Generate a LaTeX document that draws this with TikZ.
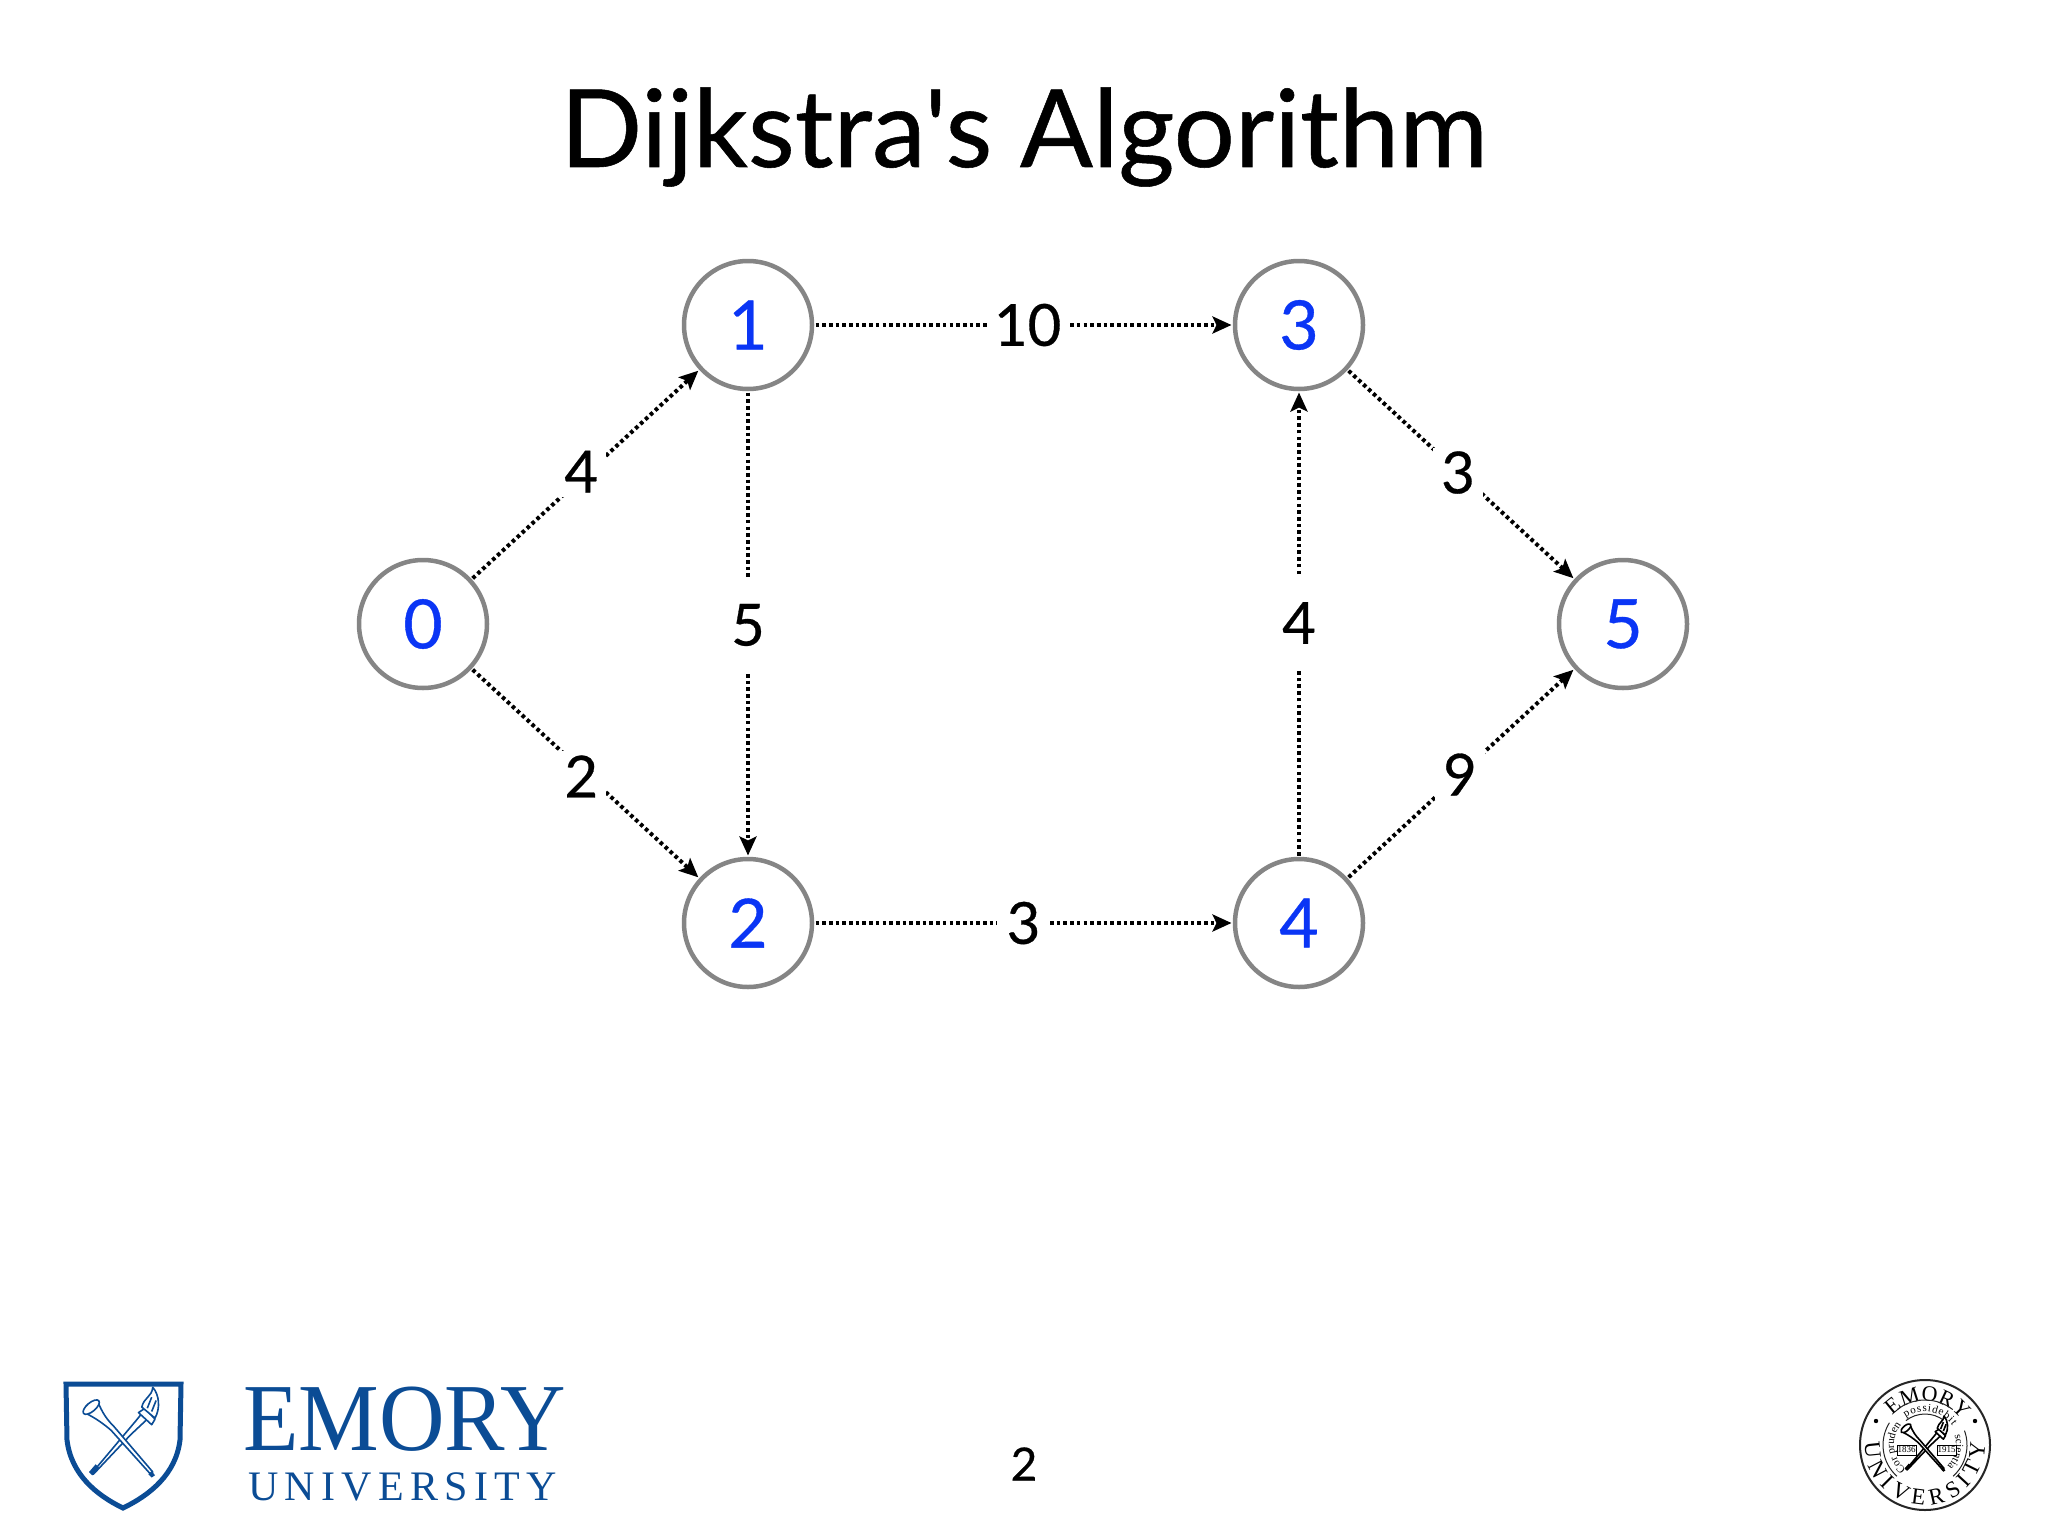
\documentclass[tikz,border=0pt]{standalone}
\usepackage{fontspec}
\usepackage{graphicx}
\usetikzlibrary{arrows.meta,decorations.text}
\setmainfont{Lato}
\newfontfamily\heavyfont[FakeBold=0.5]{Lato}
\newfontfamily\logofont{Liberation Serif}
\newfontfamily\logospaced[LetterSpace=15]{Liberation Serif}
\definecolor{nodeblue}{HTML}{0A35F5}
\definecolor{ringgray}{HTML}{858585}
\definecolor{emoryblue}{HTML}{0B4C95}
\newcommand{\px}[1]{\fontsize{#1}{#1}\selectfont}
\tikzset{
  vertex/.style={circle,draw=ringgray,line width=4.5pt,minimum size=128pt,inner sep=0pt,outer sep=3.5pt,text=nodeblue,font=\heavyfont\px{68}},
  edge/.style={line width=4pt,dash pattern=on 3.6pt off 3.1pt,-{Stealth[length=19pt,width=17pt,inset=4pt]},black},
  weight/.style={fill=white,inner sep=0pt,text=black,font=\heavyfont\px{58}},
  hweight/.style={weight,minimum height=30pt},
  vweight/.style={weight,minimum height=94pt,minimum width=30pt},
  dweight/.style={weight,minimum height=50pt,minimum width=50pt},
  tube/.style={line width=1.6pt,line join=round},
}
% crossed trumpet and torch, local origin at the crossing
\newcommand{\crossedemblem}[1]{%
  \draw[tube,draw=#1,fill=white] (-28,30) -- (-24,27) -- (13,-17) -- (17,-22) -- (24,-19) -- (8,-4) -- (-26,32) -- cycle;
  \fill[#1] (-30,30) -- (-24,23) -- (-21,26) -- (-27,33) -- cycle;
  \draw[tube,draw=#1,fill=white] (15,-24) -- (27,-13) -- (30,-18) -- (21,-28) -- cycle;
  \draw[tube,draw=#1,fill=white] (18,-29) .. controls (20,-38) and (27,-38) .. (28,-47) .. controls (34,-40) and (35,-28) .. (30,-19) -- cycle;
  \draw[tube,draw=#1] (23,-28) -- (27,-38) (27,-25) -- (31,-35);
  \draw[tube,draw=#1,fill=white] (26,32) -- (28,30) -- (-7,-11) .. controls (-14,-18) and (-18,-24) .. (-22,-34) -- (-34,-24) .. controls (-24,-19) and (-17,-14) .. (-10,-8) -- cycle;
  \draw[tube,draw=#1,fill=white,rotate around={40:(-28,-29)}] (-28,-29) ellipse (9 and 4);
  \fill[#1] (24,32) -- (27,29) -- (30,33) -- (27,35) -- cycle;
}
\begin{document}
\begin{tikzpicture}[x=1pt,y=-1pt]
\useasboundingbox (0,0) rectangle (2048,1536);
\fill[white] (0,0) rectangle (2048,1536);

\node[anchor=base,inner sep=0pt,font=\heavyfont\px{108}] (title) at (1024,167) {Dijkstra\char"27 s Algorithm};

\node[vertex] (n0) at (423,624) {0};
\node[vertex] (n1) at (748,325) {1};
\node[vertex] (n2) at (748,923) {2};
\node[vertex] (n3) at (1299,325) {3};
\node[vertex] (n4) at (1299,923) {4};
\node[vertex] (n5) at (1623,624) {5};

\draw[edge] (n0) -- node[dweight,pos=0.49,xshift=-2pt,yshift=5pt] (w01) {4} (n1);
\draw[edge] (n0) -- node[dweight,pos=0.49,xshift=-2pt,yshift=-5pt] (w02) {2} (n2);
\draw[edge] (n1) -- node[vweight,midway,yshift=-1pt] (w12) {5} (n2);
\draw[edge] (n1) -- node[hweight,minimum width=82pt,pos=0.51] (w13) {10} (n3);
\draw[edge] (n2) -- node[hweight,minimum width=53pt,pos=0.5] (w24) {3} (n4);
\draw[edge] (n4) -- node[vweight,midway,yshift=1pt] (w43) {4} (n3);
\draw[edge] (n3) -- node[dweight,pos=0.5,xshift=-3pt,yshift=2pt] (w35) {3} (n5);
\draw[edge] (n4) -- node[dweight,pos=0.5,xshift=-1pt,yshift=-1pt] (w45) {9} (n5);

\node[inner sep=0pt,font=\heavyfont\px{46}] (page) at (1024,1464) {2};

% Emory shield
\draw[emoryblue,line width=5pt,line join=miter] (66,1384) -- (181,1384) -- (180,1440)
  .. controls (176,1474) and (150,1495) .. (123,1508)
  .. controls (96,1495) and (71,1474) .. (67,1440) -- cycle;
\begin{scope}[shift={(122,1439)},scale=1.1]
  \crossedemblem{emoryblue}
\end{scope}
\node[anchor=base west,inner sep=0pt,text=emoryblue,font=\logofont\px{96}] (emory) at (243,1450) {\scalebox{0.945}[1]{EMORY}};
\node[anchor=base west,inner sep=0pt,text=emoryblue,font=\logospaced\px{42}] (univ) at (248,1500) {UNIVERSITY};

% Seal
\begin{scope}[shift={(1925,1445)},x=1pt,y=1pt]
  \draw[black!85,line width=2pt] (0,0) circle (65);
  \fill[black] (-49,24) circle (2.2);
  \fill[black] (50,24) circle (2.2);
  \path[decorate,decoration={text along path,text align=fit to path,
    text={|\logofont\px{22}|EMORY}}] (138:44) arc (138:42:44);
  \path[decorate,decoration={text along path,text align=fit to path,
    text={|\logofont\px{23}|UNIVERSITY}}] (178:60) arc (178:362:60);
  \draw[black!85,line width=1pt] (128:45) arc (128:52:45);
  \draw[black!85,line width=1pt] (128:31) arc (128:52:31);
  \draw[black!85,line width=1pt] (228:42) arc (228:148:42);
  \draw[black!85,line width=1pt] (20:42) arc (20:-48:42);
  \path[decorate,decoration={text along path,text align=fit to path,
    text={|\logofont\px{11}|possidebit}}] (125:33.5) arc (125:35:33.5);
  \path[decorate,decoration={text along path,text align=fit to path,
    text={|\logofont\px{11}|Cor prudentis}}] (232:31) arc (232:145:31);
  \path[decorate,decoration={text along path,text align=fit to path,
    text={|\logofont\px{11}|scientiam}}] (18:31) arc (18:-50:31);
\end{scope}
\begin{scope}[shift={(1925,1448)},scale=0.68]
  \crossedemblem{black}
\end{scope}
\begin{scope}[shift={(1925,1445)},x=1pt,y=1pt]
  \draw[black,line width=1pt,fill=white] (-28,-0) rectangle (-9,-10);
  \draw[black,line width=1pt,fill=white] (12,-0) rectangle (31,-10);
  \node[inner sep=0pt,font=\logofont\px{9}] (y1) at (-18.5,-5) {1836};
  \node[inner sep=0pt,font=\logofont\px{9}] (y2) at (21.5,-5) {1915};
\end{scope}
\end{tikzpicture}
\end{document}
